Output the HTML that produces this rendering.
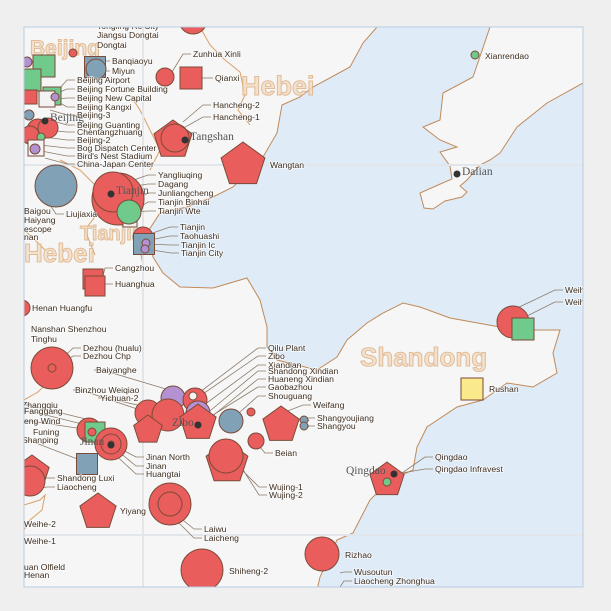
<!DOCTYPE html>
<html><head><meta charset="utf-8"><style>
html,body{margin:0;padding:0;background:#efefef;}
svg{display:block;font-family:"Liberation Sans",sans-serif;}
.lbl{font-size:8.6px;fill:#3b2c1e;paint-order:stroke;stroke:#ffffff;stroke-width:1.6px;stroke-opacity:.7}
.city{font-family:"Liberation Serif",serif;font-size:11.5px;fill:#555;}
.prov{font-weight:bold;fill:#f3dcc3;stroke:#dcae80;stroke-width:1;opacity:.8}
</style></head><body>
<svg id="map" width="611" height="611" viewBox="0 0 611 611">
<defs><clipPath id="clip"><rect x="24" y="27" width="559" height="560"/></clipPath></defs>
<rect x="0" y="0" width="611" height="611" fill="#efefef"/>
<g clip-path="url(#clip)" id="mapg">
<rect x="24" y="27" width="559" height="560" fill="#f6f6f6"/>
<path fill="#dfecf8" stroke="#c08a5a" stroke-width="1" d="M377,27 L363,43 L350,67 L313,87 L300,97 L282,105 L277,133 L263,157 L233,187 L213,197 L187,207 L160,213 L147,233 L153,257 L163,273 L180,287 L213,288 L230,283 L247,278 L260,300 L267,327 L267,347 L277,360 L317,370 L337,357 L347,340 L367,323 L383,313 L403,303 L420,307 L450,318 L500,327 L533,330 L560,330 L553,353 L557,373 L533,387 L507,383 L483,400 L457,407 L427,427 L417,447 L413,470 L390,480 L370,500 L353,533 L337,540 L320,577 L317,590 L590,590 L590,83 L583,83 L547,103 L517,127 L500,153 L490,160 L480,165 L467,180 L460,186 L467,192 L462,197 L445,201 L433,209 L424,208 L420,193 L438,185 L452,179 L450,166 L440,152 L457,147 L440,140 L423,127 L440,120 L443,93 L473,77 L490,27 Z"/>
<g fill="none" stroke="#d9a066" stroke-width="1">
<path d="M24,230 L35,240 L45,250"/>
<path d="M24,400 L38,392 L45,385"/>
<path d="M24,505 L40,500 L45,495 L42,510 L30,520 L24,530"/>
<path d="M200,27 L210,45 L225,60 L240,72 L245,95 L238,110 L250,125"/>
<path d="M130,95 L140,110 L150,130 L160,150 L150,170"/>
<path d="M60,160 L80,170 L95,185 L100,210 L85,230 L95,255"/>
<path d="M150,232 L140,250 L143,265"/>
</g>
<g stroke="#e2e6ea" stroke-width="2">
<line x1="143" y1="27" x2="143" y2="587"/><line x1="24" y1="165" x2="583" y2="165"/><line x1="24" y1="535" x2="583" y2="535"/>
</g>
<g>
<text class="prov" x="30" y="55" font-size="21">Beijing</text>
<text class="prov" x="241" y="95" font-size="27">Hebei</text>
<text class="prov" x="80" y="240" font-size="20">Tianjin</text>
<text class="prov" x="24" y="262" font-size="26">Hebei</text>
<text class="prov" x="360" y="366" font-size="26">Shandong</text>
</g>
<g id="leaders" fill="none" stroke="#8c7b6a" stroke-width="0.8"></g>
<g id="marks"></g>
<g id="labels"></g>
</g>
<rect x="24" y="27" width="559" height="560" fill="none" stroke="#b9cde3" stroke-width="1"/>
</svg>
<script>
// plant data
const plantNames=["Tongling","Beijing West","Beijing North","Beijing NW","Dongtai","Banqiaoyu","Miyun","Zunhua Xinli","Qianxi","Beijing Airport","Beijing Fortune Building","Beijing New Capital","Beijing Kangxi","Beijing-3","Beijing Guanting","Chentangzhuang","Beijing-2","Bird's Nest Stadium","Bog Dispatch Center","China-Japan Center","Hancheng-2","Hancheng-1","Wangtan","Liujiaxia","Yangliuqing","Dagang","Tianjin Wte","Tianjin Binhai","Tianjin","Taohuashi","Tianjin Ic","Tianjin City","Cangzhou","Huanghua","Henan Huangfu","Dezhou (hualu)","Dezhou Chp","Baiyanghe","Qilu Plant","Zibo","Xiandian","Binzhou Weiqiao","Yichuan-2","Huaneng Xindian","Shandong Xindian","Gaobazhou","Shouguang","Weifang","Shangyoujiang","Shangyou","Beian","Wujing-2","Wujing-1","Zhangqiu","Funing","Fanggang","Jinan North","Jinan","Huangtai","Shanping","Shandong Luxi","Liaocheng","Yiyang","Laiwu","Laicheng","Shiheng-2","Rizhao","Weihai-1","Weihai-2","Rushan","Qingdao","Qingdao Infravest","Xianrendao"];
const plantLon=[117.19,115.53,115.70,115.56,115.99,116.21,116.22,116.91,117.17,115.78,115.56,115.73,115.81,115.55,115.64,115.74,115.56,115.67,115.62,115.61,116.99,117.01,117.69,115.82,116.44,116.39,116.56,116.55,116.69,116.70,116.72,116.71,116.19,116.21,115.48,115.78,115.78,116.99,117.21,117.19,117.24,116.74,116.94,116.74,117.24,117.57,117.77,118.07,118.30,118.30,117.82,117.53,117.52,116.15,116.21,116.18,116.37,116.37,116.37,116.13,115.58,115.56,116.24,116.96,116.96,117.28,118.48,120.39,120.49,119.98,119.13,119.13,120.01];
const plantLat=[41.07,40.65,40.61,40.47,40.74,40.60,40.58,40.50,40.49,40.31,40.30,40.28,40.30,40.12,39.97,39.99,39.92,39.90,39.79,39.78,39.87,39.89,39.62,39.41,39.28,39.35,39.07,39.15,38.90,38.83,38.84,38.78,38.48,38.41,38.19,37.59,37.59,37.29,37.27,37.31,37.14,37.14,37.12,36.97,37.04,37.06,37.15,37.02,37.07,37.01,36.86,36.64,36.71,36.97,36.95,36.95,36.83,36.83,36.83,36.63,36.54,36.46,36.15,36.23,36.23,35.57,35.73,38.05,37.98,37.38,36.47,36.45,40.72];
const plantSize=[14,5,22,22,4,21,10,9,22,18,14,16,4,5,11,10,9,4,16,5,20,14,23,21,26,20,14,12,10,21,4,4,20,20,8,21,4,12,12,4,12,13,16,15,19,12,4,19,4,4,8,22,17,12,20,4,16,10,3,21,18,15,19,21,12,21,17,16,22,22,18,4,4];
const plantShape=["c","c","s","s","c","s","c","c","s","s","s","s","c","c","c","c","c","c","s","c","p","c","p","c","c","c","s","c","c","s","c","c","s","s","c","c","c","c","c","c","c","c","c","p","p","c","c","p","c","c","c","p","c","c","s","c","c","c","c","s","p","c","p","c","c","c","c","c","s","s","p","c","c"];
const plantColor=["r","p","g","g","r","b","b","r","r","g","r","w","p","b","r","r","r","g","w","p","r","n","r","b","r","r","w","g","r","b","p","p","r","r","r","r","n","p","r","w","p","r","r","r","r","b","r","r","b","b","r","r","r","r","g","r","r","n","n","b","r","r","r","r","n","r","r","r","g","y","r","g","g"];
const cityNames=["Beijing","Tangshan","Tianjin","Jinan","Zibo","Dalian","Qingdao"];
const cityLon=[115.71,117.11,116.37,116.37,117.24,119.83,119.20];
const cityLat=[40.06,39.87,39.33,36.82,37.02,39.53,36.53];

const fills={r:"#ea5d5d",g:"#6fca8c",b:"#80a1b6",p:"#b391d2",y:"#fbea8b",w:"#f3f3f3",n:"none"};
function xScale(lon){return (lon-115.26)*100;}
function yScale(lat){return (41.27-lat)*100;}
const NS="http://www.w3.org/2000/svg";
const marks=document.getElementById("marks");
for(let i=0;i<plantNames.length;i++){
  const x=xScale(plantLon[i]), y=yScale(plantLat[i]), s=plantSize[i], sh=plantShape[i];
  let el;
  if(sh==="c"){el=document.createElementNS(NS,"circle");el.setAttribute("cx",x);el.setAttribute("cy",y);el.setAttribute("r",s);}
  else if(sh==="s"){el=document.createElementNS(NS,"rect");el.setAttribute("x",x-s/2);el.setAttribute("y",y-s/2);el.setAttribute("width",s);el.setAttribute("height",s);}
  else{el=document.createElementNS(NS,"polygon");const pts=[];for(let k=0;k<5;k++){const a=-Math.PI/2+k*2*Math.PI/5;pts.push((x+s*Math.cos(a)).toFixed(1)+","+(y+s*Math.sin(a)).toFixed(1));}el.setAttribute("points",pts.join(" "));}
  el.setAttribute("fill",fills[plantColor[i]]);
  el.setAttribute("stroke","#7a4b38");
  el.setAttribute("stroke-width","1");
  
  
  marks.appendChild(el);
}
for(let i=0;i<cityNames.length;i++){
  const x=xScale(cityLon[i]), y=yScale(cityLat[i]);
  const d=document.createElementNS(NS,"circle");
  d.setAttribute("cx",x);d.setAttribute("cy",y);d.setAttribute("r",3.5);d.setAttribute("fill","#333");
  
  
  marks.appendChild(d);
  const t=document.createElementNS(NS,"text");
  t.setAttribute("x",x+(cityNames[i]==="Qingdao"?-48:cityNames[i]==="Zibo"?-26:cityNames[i]==="Jinan"?-31:5));
  t.setAttribute("y",y-(cityNames[i]==="Dalian"?-1:0)+(cityNames[i]==="Zibo"?1:0));
  t.setAttribute("class","city");
  t.textContent=cityNames[i];
  
  
  marks.appendChild(t);
}
// label text, position, leader target
const labelText=["Tongling Rc City","Jiangsu Dongtai","Dongtai","Banqiaoyu","Miyun","Beijing Airport","Beijing Fortune Building","Beijing New Capital","Beijing Kangxi","Beijing-3","Beijing Guanting","Chentangzhuang","Beijing-2","Bog Dispatch Center","Bird's Nest Stadium","China-Japan Center","Zunhua Xinli","Qianxi","Hancheng-2","Hancheng-1","Wangtan","Yangliuqing","Dagang","Junliangcheng","Tianjin Binhai","Tianjin Wte","Liujiaxia","Baigou","Haiyang","escope","nan","Tianjin","Taohuashi","Tianjin Ic","Tianjin City","Cangzhou","Huanghua","Henan Huangfu","Nanshan Shenzhou","Tinghu","Dezhou (hualu)","Dezhou Chp","Baiyanghe","Binzhou Weiqiao","Yichuan-2","Zhangqiu","Fanggang","eng Wind","Funing","Shanping","Jinan North","Jinan","Huangtai","Shandong Luxi","Liaocheng","Yiyang","Weihe-2","Weihe-1","uan Olfield","Henan","Laiwu","Laicheng","Shiheng-2","Qilu Plant","Zibo","Xiandian","Shandong Xindian","Huaneng Xindian","Gaobazhou","Shouguang","Weifang","Shangyoujiang","Shangyou","Beian","Wujing-1","Wujing-2","Xianrendao","Weih","Weih","Rushan","Qingdao","Qingdao Infravest","Rizhao","Wusoutun","Liaocheng Zhonghua"];
const labelX=[97,97,97,112,112,77,77,77,77,77,77,77,77,77,77,77,193,215,213,213,270,158,158,158,158,158,66,24,24,24,24,180,180,181,181,115,115,32,31,31,83,83,96,75,100,22,24,24,33,22,146,146,146,57,57,120,24,24,24,24,204,204,229,268,268,268,268,268,268,268,313,317,317,275,269,269,485,565,565,489,435,435,345,354,354];
const labelY=[29,38,48,64,74,83,92,101,110,118,128,135,143,151,159,167,57,81,108,120,168,178,187,196,205,214,217,214,223,232,240,230,239,248,256,271,287,311,332,342,351,359,373,393,401,408,414,424,435,443,460,469,477,481,490,514,527,544,570,578,532,541,574,351,359,368,374,382,390,399,408,421,429,456,490,498,59,293,305,392,460,472,558,575,584];
const labelTx=[null,null,null,106,106,60,60,56,55,50,50,45,44,40,36,45,172,202,183,180,null,128,124,135,138,132,50,null,null,null,null,150,150,147,146,103,105,null,null,null,55,55,176,140,160,90,90,90,null,80,117,113,110,44,40,null,null,null,null,null,178,172,null,200,197,200,205,210,213,240,285,309,309,260,235,240,null,513,523,null,392,396,null,340,340];
const labelTy=[null,null,null,67,70,88,92,99,100,110,120,130,137,145,150,158,72,78,122,130,null,182,188,200,208,212,205,null,null,null,null,234,240,244,249,276,286,null,null,null,366,368,392,410,410,420,426,430,null,460,447,447,450,478,488,null,null,null,null,null,516,516,null,392,398,408,415,418,415,412,412,421,427,447,463,465,null,310,318,null,480,474,null,573,587];
const lab=document.getElementById("labels"), lead=document.getElementById("leaders");
for(let i=0;i<labelText.length;i++){
  const t=document.createElementNS(NS,"text");
  t.setAttribute("x",labelX[i]);t.setAttribute("y",labelY[i]);t.setAttribute("class","lbl");
  t.textContent=labelText[i];
  
  
  lab.appendChild(t);
  if(labelTx[i]!==null){
    const p=document.createElementNS(NS,"polyline");
    const lx=labelX[i]-2, ly=labelY[i]-3;
    const mx=labelTx[i]<lx? lx-8 : lx+8;
    p.setAttribute("points",lx+","+ly+" "+mx+","+ly+" "+labelTx[i]+","+labelTy[i]);
    
    
    lead.appendChild(p);
  }
}
</script>
</body></html>
